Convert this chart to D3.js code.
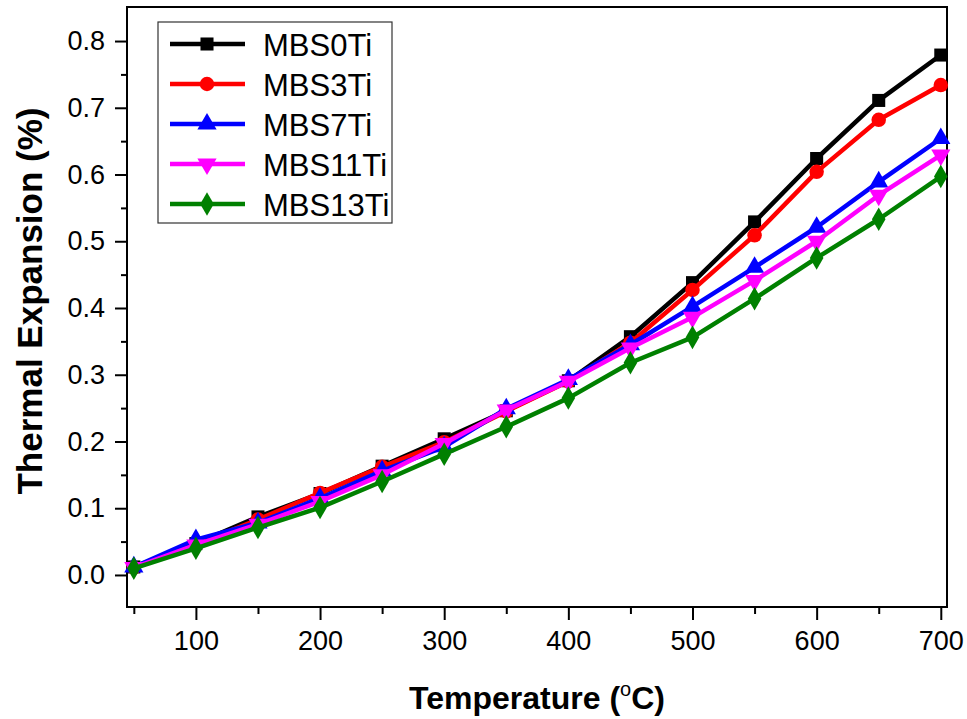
<!DOCTYPE html>
<html>
<head>
<meta charset="utf-8">
<script src="https://cdn.jsdelivr.net/npm/d3@7"></script>
<style>
  html, body { margin: 0; padding: 0; background: #fff; }
  svg { display: block; font-family: "Liberation Sans", Arial, sans-serif; }
</style>
</head>
<body>
<script>
// Thermal expansion of MBS glass series versus temperature
const temperatures = [50, 100, 150, 200, 250, 300, 350, 400, 450, 500, 550, 600, 650, 700];
const seriesNames = ["MBS0Ti", "MBS3Ti", "MBS7Ti", "MBS11Ti", "MBS13Ti"];
const MBS0Ti  = [0.012, 0.047, 0.087, 0.122, 0.163, 0.204, 0.246, 0.291, 0.357, 0.438, 0.529, 0.624, 0.711, 0.779];
const MBS3Ti  = [0.011, 0.046, 0.083, 0.123, 0.162, 0.199, 0.245, 0.290, 0.348, 0.427, 0.509, 0.604, 0.682, 0.734];
const MBS7Ti  = [0.012, 0.053, 0.078, 0.115, 0.156, 0.192, 0.249, 0.293, 0.345, 0.402, 0.461, 0.521, 0.589, 0.654];
const MBS11Ti = [0.011, 0.045, 0.076, 0.110, 0.150, 0.197, 0.247, 0.290, 0.340, 0.386, 0.441, 0.500, 0.569, 0.629];
const MBS13Ti = [0.010, 0.040, 0.071, 0.101, 0.140, 0.181, 0.222, 0.265, 0.318, 0.356, 0.414, 0.475, 0.533, 0.597];
const seriesValues = [MBS0Ti, MBS3Ti, MBS7Ti, MBS11Ti, MBS13Ti];
const xTickValues = [100, 200, 300, 400, 500, 600, 700];
const yTickValues = [0.0, 0.1, 0.2, 0.3, 0.4, 0.5, 0.6, 0.7, 0.8];

const colors = ["#000000", "#ff0000", "#0000ff", "#ff00ff", "#008000"];
const symbols = [d3.symbolSquare, d3.symbolCircle, d3.symbolTriangle, "down", d3.symbolDiamond];
const symbolSizes = [170, 165, 160, 160, 160];

const W = 967, H = 719;
const frame = { left: 127, right: 947, top: 7, bottom: 607 };

const svg = d3.select("body").append("svg").attr("width", W).attr("height", H);

const x = d3.scaleLinear().domain([44.5, 705]).range([frame.left, frame.right]);
const y = d3.scaleLinear().domain([-0.048, 0.851]).range([frame.bottom, frame.top]);

// Frame
svg.append("rect")
  .attr("x", frame.left).attr("y", frame.top)
  .attr("width", frame.right - frame.left).attr("height", frame.bottom - frame.top)
  .attr("fill", "none").attr("stroke", "#000").attr("stroke-width", 2);

// Y axis: major + minor ticks
const yAxis = svg.append("g").attr("transform", `translate(${frame.left},0)`);
yAxis.call(d3.axisLeft(y).tickValues(d3.range(0.05, 0.85, 0.1)).tickSize(6).tickFormat(""))
  .call(g => g.select(".domain").remove());
yAxis.append("g").call(d3.axisLeft(y).tickValues(yTickValues).tickSize(12).tickPadding(10).tickFormat(d3.format(".1f")))
  .call(g => g.select(".domain").remove())
  .call(g => g.selectAll("text").attr("font-size", 27).attr("fill", "#000").attr("font-family", "Liberation Sans, Arial, sans-serif"));
yAxis.selectAll("line").attr("stroke", "#000").attr("stroke-width", 2);

// X axis: major + minor ticks
const xAxis = svg.append("g").attr("transform", `translate(0,${frame.bottom})`);
xAxis.call(d3.axisBottom(x).tickValues([50, 150, 250, 350, 450, 550, 650]).tickSize(7).tickFormat(""))
  .call(g => g.select(".domain").remove());
xAxis.append("g").call(d3.axisBottom(x).tickValues(xTickValues).tickSize(13).tickPadding(11).tickFormat(d3.format("d")))
  .call(g => g.select(".domain").remove())
  .call(g => g.selectAll("text").attr("font-size", 27).attr("fill", "#000").attr("font-family", "Liberation Sans, Arial, sans-serif"));
xAxis.selectAll("line").attr("stroke", "#000").attr("stroke-width", 2);

// Axis titles
svg.append("text")
  .attr("transform", `translate(42,${301}) rotate(-90)`)
  .attr("text-anchor", "middle")
  .attr("font-size", 35).attr("font-weight", "bold")
  .text("Thermal Expansion (%)");

const xt = svg.append("text")
  .attr("x", (frame.left + frame.right) / 2).attr("y", 709)
  .attr("text-anchor", "middle")
  .attr("font-size", 32).attr("font-weight", "bold");
xt.append("tspan").text("Temperature (");
xt.append("tspan").attr("font-size", 20).attr("font-weight", "normal").attr("dy", -13).text("o");
xt.append("tspan").attr("dy", 13).text("C)");

// Marker path generator
function markerPath(i) {
  if (symbols[i] === "down") {
    return d3.symbol().type(d3.symbolTriangle).size(symbolSizes[i])();
  }
  return d3.symbol().type(symbols[i]).size(symbolSizes[i])();
}
function markerTransform(i, px, py) {
  return symbols[i] === "down" ? `translate(${px},${py}) rotate(180)` : `translate(${px},${py})`;
}

const line = d3.line().x((d, j) => x(temperatures[j])).y(d => y(d));

const plot = svg.append("g");
seriesValues.forEach((vals, i) => {
  const g = plot.append("g");
  g.append("path").datum(vals)
    .attr("d", line)
    .attr("fill", "none").attr("stroke", colors[i]).attr("stroke-width", 4.5)
    .attr("stroke-linejoin", "round");
  g.selectAll("path.m").data(vals).enter().append("path")
    .attr("class", "m")
    .attr("d", markerPath(i))
    .attr("transform", (d, j) => markerTransform(i, x(temperatures[j]), y(d)))
    .attr("fill", colors[i]);
});

// Legend
const legend = svg.append("g");
legend.append("rect")
  .attr("x", 158).attr("y", 22).attr("width", 234).attr("height", 201)
  .attr("fill", "#fff").attr("stroke", "#333").attr("stroke-width", 1.2);
seriesNames.forEach((name, i) => {
  const ly = 44 + i * 40;
  legend.append("line")
    .attr("x1", 170).attr("x2", 245).attr("y1", ly).attr("y2", ly)
    .attr("stroke", colors[i]).attr("stroke-width", 4.5);
  legend.append("path")
    .attr("d", markerPath(i))
    .attr("transform", markerTransform(i, 207, ly))
    .attr("fill", colors[i]);
  legend.append("text")
    .attr("x", 263).attr("y", ly + 12)
    .attr("font-size", 31)
    .text(name);
});
</script>
</body>
</html>
